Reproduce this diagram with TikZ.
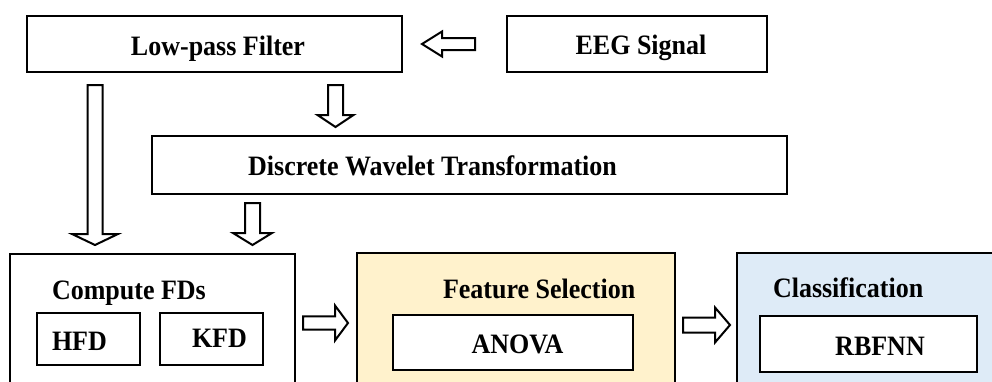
\documentclass[tikz,border=0pt]{standalone}
\usepackage{fontspec}
\usepackage{graphicx}
\setmainfont{Liberation Serif}
\usetikzlibrary{calc}
\newcommand{\mylbl}[1]{\scalebox{1}[1.08]{#1}}
\definecolor{fsyellow}{HTML}{FFF2CC}
\definecolor{clblue}{HTML}{DEEBF7}
\tikzset{
  boxstyle/.style={draw=black, line width=2.6pt, inner sep=0pt, outer sep=0pt, anchor=north west, fill=white},
  txtstyle/.style={inner sep=0pt, outer sep=0pt, font=\fontsize{26}{30}\selectfont\bfseries},
  blockarrow/.style n args={3}{draw=black, fill=white, line width=2pt, line join=miter,
    to path={
      let \p1=(\tikztostart), \p2=(\tikztotarget), \n1={atan2(\y2-\y1,\x2-\x1)} in
      ($(\p1)+(\n1+90:#2)$) -- ($(\p2)+(\n1+180:#1)+(\n1+90:#2)$) --
      ($(\p2)+(\n1+180:#1)+(\n1+90:#3)$) -- (\p2) --
      ($(\p2)+(\n1+180:#1)+(\n1-90:#3)$) -- ($(\p2)+(\n1+180:#1)+(\n1-90:#2)$) --
      ($(\p1)+(\n1-90:#2)$) -- cycle
    }}
}
\begin{document}
\begin{tikzpicture}[x=1pt,y=-1pt]
\useasboundingbox (0,0) rectangle (992,381);
\clip (0,0) rectangle (992,381);
% top row
\node[boxstyle, minimum width=375pt, minimum height=56pt] (lpf) at (27,16) {};
\node[txtstyle, anchor=base] (lpft) at (218,55) {\mylbl{Low-pass Filter}};
\node[boxstyle, minimum width=260pt, minimum height=56pt] (eeg) at (507,16) {};
\node[txtstyle, anchor=base] (eegt) at (641,54) {\mylbl{EEG Signal}};
% DWT
\node[boxstyle, minimum width=635pt, minimum height=58pt] (dwt) at (152,136) {};
\node[txtstyle, anchor=base] (dwtt) at (432.5,175) {\mylbl{Discrete Wavelet Transformation}};
% Compute FDs
\node[boxstyle, minimum width=285pt, minimum height=160pt] (cfd) at (10,254) {};
\node[txtstyle, anchor=base west] (cfdt) at (52,299) {\mylbl{Compute FDs}};
\node[boxstyle, minimum width=103pt, minimum height=52pt] (hfd) at (37,313) {};
\node[txtstyle, anchor=base west] (hfdt) at (52,350) {\mylbl{HFD}};
\node[boxstyle, minimum width=103pt, minimum height=52pt] (kfd) at (160,313) {};
\node[txtstyle, anchor=base west] (kfdt) at (192,347) {\mylbl{KFD}};
% Feature selection
\node[boxstyle, fill=fsyellow, minimum width=318pt, minimum height=160pt] (fs) at (357,253) {};
\node[txtstyle, anchor=base west] (fst) at (443,298) {\mylbl{Feature Selection}};
\node[boxstyle, minimum width=240pt, minimum height=55pt] (anova) at (393,315) {};
\node[txtstyle, anchor=base] (anovat) at (517.5,353) {\mylbl{ANOVA}};
% Classification
\node[boxstyle, fill=clblue, minimum width=300pt, minimum height=160pt] (cls) at (737,253) {};
\node[txtstyle, anchor=base west] (clst) at (773,297) {\mylbl{Classification}};
\node[boxstyle, minimum width=217pt, minimum height=56pt] (rbf) at (760,316) {};
\node[txtstyle, anchor=base] (rbft) at (880,355) {\mylbl{RBFNN}};
% arrow end points
\coordinate (a1s) at (475,44);   \coordinate (a1t) at (422,44);
\coordinate (a2s) at (335.5,85); \coordinate (a2t) at (335.5,127);
\coordinate (a3s) at (95,85);    \coordinate (a3t) at (95,245);
\coordinate (a4s) at (252.5,203);\coordinate (a4t) at (252.5,245);
\coordinate (a5s) at (303,323);  \coordinate (a5t) at (348,323);
\coordinate (a6s) at (683,325);  \coordinate (a6t) at (730,325);
\draw[blockarrow={20pt}{6pt}{12.5pt}] (a1s) to (a1t);
\draw[blockarrow={12pt}{7.5pt}{18pt}] (a2s) to (a2t);
\draw[blockarrow={11pt}{7.5pt}{23pt}] (a3s) to (a3t);
\draw[blockarrow={12pt}{7.5pt}{19.5pt}] (a4s) to (a4t);
\draw[blockarrow={13pt}{6.7pt}{17.5pt}] (a5s) to (a5t);
\draw[blockarrow={15pt}{7.5pt}{17.5pt}] (a6s) to (a6t);
\end{tikzpicture}
\end{document}
